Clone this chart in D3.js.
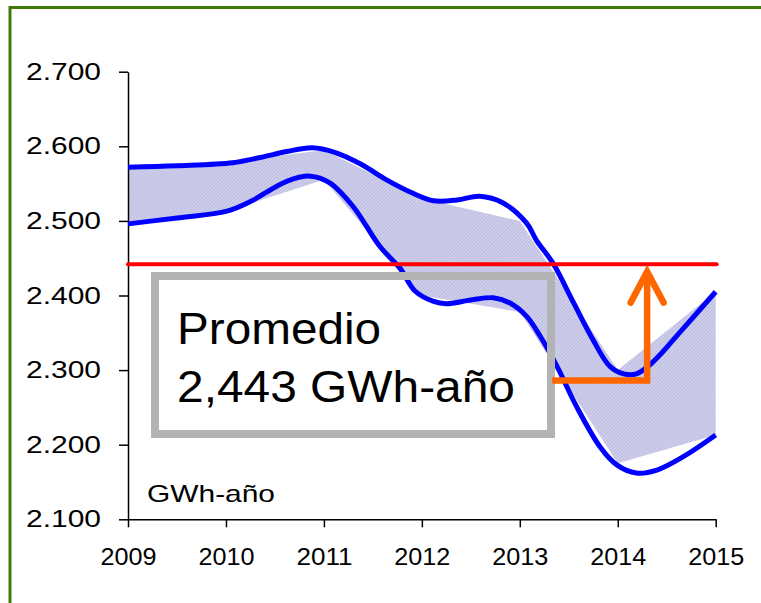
<!DOCTYPE html>
<html>
<head>
<meta charset="utf-8">
<script src="https://cdn.jsdelivr.net/npm/d3@7"></script>
<style>
  body { margin: 0; background: #fff; }
  text { font-family: Arial, "Liberation Sans", sans-serif; fill: #000; }
</style>
</head>
<body>
<svg id="chart" width="761" height="603"></svg>
<script>
// upper bound curve (year, GWh-año in thousands)
const upperYears = [2009.00, 2009.50, 2010.07, 2010.35, 2010.62, 2010.88, 2011.11, 2011.38, 2011.64, 2011.91,
  2012.12, 2012.36, 2012.59, 2012.83, 2013.07, 2013.17, 2013.34, 2013.55, 2013.75, 2013.92,
  2014.06, 2014.19, 2014.36, 2014.67, 2015.00];
const upperValues = [2.572, 2.574, 2.578, 2.585, 2.593, 2.598, 2.592, 2.576, 2.555, 2.537,
  2.527, 2.528, 2.533, 2.524, 2.497, 2.474, 2.443, 2.390, 2.340, 2.305,
  2.295, 2.295, 2.311, 2.356, 2.405];

// lower bound curve
const lowerYears = [2009.00, 2009.50, 2010.01, 2010.25, 2010.62, 2010.86, 2011.06, 2011.30, 2011.57, 2011.78,
  2011.93, 2012.12, 2012.25, 2012.50, 2012.73, 2012.90, 2013.07, 2013.21, 2013.38, 2013.58,
  2013.82, 2013.99, 2014.19, 2014.40, 2014.67, 2015.00];
const lowerValues = [2.496, 2.504, 2.513, 2.526, 2.553, 2.560, 2.551, 2.519, 2.466, 2.436,
  2.406, 2.392, 2.389, 2.394, 2.397, 2.390, 2.372, 2.345, 2.305, 2.251,
  2.197, 2.173, 2.162, 2.166, 2.184, 2.213];

// shaded band (yearly points, straight segments)
const bandYears = [2009, 2010, 2011, 2012, 2013, 2014, 2015];
const bandUpper = [2.572, 2.578, 2.595, 2.530, 2.500, 2.300, 2.405];
const bandLower = [2.496, 2.513, 2.555, 2.400, 2.378, 2.175, 2.213];

const average = 2.442;
const averageLabel = ["Promedio", "2,443 GWh-año"];
const unitLabel = "GWh-año";

// orange arrow: from box edge to the 2014 minimum, then up to the average
const arrowYears = [2013.33, 2014.30, 2014.30];
const arrowValues = [2.286, 2.286, 2.432];

const xTicks = [2009, 2010, 2011, 2012, 2013, 2014, 2015];
const yTicks = [2.1, 2.2, 2.3, 2.4, 2.5, 2.6, 2.7];

const svg = d3.select('#chart');
const x = d3.scaleLinear().domain([2009, 2015]).range([128, 715.7]);
const y = d3.scaleLinear().domain([2.1, 2.7]).range([519.3, 71.7]);

// outer frame
svg.append('rect')
  .attr('x', 10).attr('y', 7.5).attr('width', 800).attr('height', 700)
  .attr('fill', 'none').attr('stroke', '#3f7a0a').attr('stroke-width', 3);

const defs = svg.append('defs');
const pat = defs.append('pattern')
  .attr('id', 'hatch').attr('patternUnits', 'userSpaceOnUse')
  .attr('width', 2.5).attr('height', 2.5).attr('patternTransform', 'rotate(45)');
pat.append('rect').attr('width', 2.5).attr('height', 2.5).attr('fill', '#cfcfec');
pat.append('line').attr('x1', 0).attr('y1', 0).attr('x2', 0).attr('y2', 2.5)
  .attr('stroke', '#b2b2dc').attr('stroke-width', 1.2);

// band
const band = bandYears.map((t, i) => ({ t: t, hi: bandUpper[i], lo: bandLower[i] }));
svg.append('path')
  .datum(band)
  .attr('fill', 'url(#hatch)')
  .attr('d', d3.area().x(d => x(d.t)).y0(d => y(d.lo)).y1(d => y(d.hi)));

// axes
const yAxis = svg.append('g')
  .attr('transform', 'translate(128,0)')
  .call(d3.axisLeft(y).tickValues(yTicks).tickSize(9).tickSizeOuter(0).tickPadding(18)
    .tickFormat(d => d.toFixed(3)));
yAxis.selectAll('text')
  .attr('font-size', 24).attr('textLength', 75).attr('lengthAdjust', 'spacingAndGlyphs')
  .style('font-family', 'Arial, "Liberation Sans", sans-serif');

const xAxis = svg.append('g')
  .attr('transform', 'translate(0,519.3)')
  .call(d3.axisBottom(x).tickValues(xTicks).tickSize(8).tickSizeOuter(0).tickPadding(21)
    .tickFormat(d3.format('d')));
xAxis.selectAll('text')
  .attr('font-size', 23).attr('textLength', 56).attr('lengthAdjust', 'spacingAndGlyphs')
  .style('font-family', 'Arial, "Liberation Sans", sans-serif');

svg.selectAll('.domain, .tick line').attr('stroke', '#000').attr('stroke-width', 1.5);

// bound curves
const line = d3.line().x(d => x(d[0])).y(d => y(d[1])).curve(d3.curveCatmullRom.alpha(0.5));
[[upperYears, upperValues], [lowerYears, lowerValues]].forEach(([ts, vs]) => {
  svg.append('path')
    .datum(ts.map((t, i) => [t, vs[i]]))
    .attr('fill', 'none').attr('stroke', '#0000ff').attr('stroke-width', 5)
    .attr('stroke-linejoin', 'round')
    .attr('d', line);
});

// average line
svg.append('line')
  .attr('x1', x(2009)).attr('x2', x(2015) + 1)
  .attr('y1', y(average)).attr('y2', y(average))
  .attr('stroke', '#ff0000').attr('stroke-width', 4).attr('stroke-linecap', 'round');

// unit label
svg.append('text')
  .attr('x', 147).attr('y', 502)
  .attr('font-size', 24).attr('textLength', 128).attr('lengthAdjust', 'spacingAndGlyphs')
  .text(unitLabel);

// annotation box
svg.append('rect')
  .attr('x', 155).attr('y', 276).attr('width', 396).attr('height', 158)
  .attr('fill', 'none').attr('stroke', '#b3b3b3').attr('stroke-width', 8);
svg.append('text')
  .attr('x', 177).attr('y', 344)
  .attr('font-size', 45).attr('textLength', 204).attr('lengthAdjust', 'spacingAndGlyphs')
  .text(averageLabel[0]);
svg.append('text')
  .attr('x', 177).attr('y', 401.7)
  .attr('font-size', 45).attr('textLength', 338).attr('lengthAdjust', 'spacingAndGlyphs')
  .text(averageLabel[1]);

// orange arrow
const arrowPts = arrowYears.map((t, i) => [x(t), y(arrowValues[i])]);
svg.append('path')
  .attr('d', d3.line()(arrowPts))
  .attr('fill', 'none').attr('stroke', '#ff6600').attr('stroke-width', 6.5)
  .attr('stroke-linejoin', 'miter');
const tip = arrowPts[2];
svg.append('path')
  .attr('d', d3.line()([[tip[0] - 16.5, tip[1] + 31], tip, [tip[0] + 16.5, tip[1] + 31]]))
  .attr('fill', 'none').attr('stroke', '#ff6600').attr('stroke-width', 6.5)
  .attr('stroke-linecap', 'round').attr('stroke-linejoin', 'miter');
</script>
</body>
</html>
